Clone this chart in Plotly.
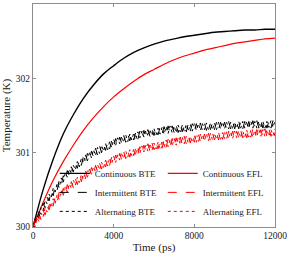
import plotly.graph_objects as go

# Sample times (ps)
time_cont = list(range(0, 12001, 500))
time_osc = list(range(0, 12001, 100))

# Continuous heating (K)
cont_bte = [300.00, 300.50, 300.91, 301.25, 301.51, 301.73, 301.91, 302.06, 302.17, 302.27,
            302.35, 302.41, 302.46, 302.50, 302.53, 302.56, 302.58, 302.60, 302.62, 302.63,
            302.64, 302.65, 302.65, 302.66, 302.66]
cont_efl = [300.00, 300.33, 300.63, 300.88, 301.10, 301.30, 301.47, 301.62, 301.75, 301.86,
            301.96, 302.05, 302.12, 302.19, 302.25, 302.30, 302.34, 302.38, 302.41, 302.44,
            302.47, 302.49, 302.51, 302.53, 302.54]

# Intermittent heating (K)
inter_bte = [300.00, 300.11, 300.06, 300.21, 300.17, 300.32, 300.26, 300.40, 300.35, 300.49,
             300.42, 300.56, 300.50, 300.63, 300.56, 300.69, 300.63, 300.76, 300.69, 300.81,
             300.74, 300.86, 300.79, 300.91, 300.83, 300.95, 300.87, 300.99, 300.91, 301.02,
             300.94, 301.06, 300.97, 301.09, 301.00, 301.11, 301.03, 301.14, 301.05, 301.16,
             301.08, 301.19, 301.10, 301.21, 301.12, 301.23, 301.14, 301.25, 301.16, 301.26,
             301.17, 301.28, 301.18, 301.29, 301.20, 301.30, 301.21, 301.31, 301.22, 301.32,
             301.23, 301.33, 301.24, 301.34, 301.25, 301.35, 301.25, 301.36, 301.26, 301.36,
             301.27, 301.37, 301.27, 301.38, 301.28, 301.38, 301.28, 301.39, 301.29, 301.39,
             301.29, 301.39, 301.30, 301.40, 301.30, 301.40, 301.30, 301.40, 301.31, 301.41,
             301.31, 301.41, 301.31, 301.41, 301.31, 301.41, 301.32, 301.42, 301.32, 301.42,
             301.32, 301.42, 301.32, 301.42, 301.32, 301.42, 301.32, 301.42, 301.32, 301.43,
             301.33, 301.43, 301.33, 301.43, 301.33, 301.43, 301.33, 301.43, 301.33, 301.43,
             301.33]
inter_efl = [300.00, 300.09, 300.03, 300.16, 300.10, 300.23, 300.16, 300.29, 300.23, 300.36,
             300.28, 300.41, 300.34, 300.47, 300.39, 300.52, 300.44, 300.57, 300.49, 300.61,
             300.53, 300.65, 300.57, 300.69, 300.61, 300.73, 300.65, 300.77, 300.69, 300.80,
             300.72, 300.83, 300.75, 300.86, 300.78, 300.89, 300.81, 300.92, 300.83, 300.94,
             300.86, 300.97, 300.88, 300.99, 300.90, 301.01, 300.92, 301.03, 300.94, 301.05,
             300.96, 301.07, 300.98, 301.08, 300.99, 301.10, 301.01, 301.12, 301.02, 301.13,
             301.04, 301.14, 301.05, 301.16, 301.06, 301.17, 301.07, 301.18, 301.08, 301.19,
             301.09, 301.20, 301.10, 301.21, 301.11, 301.22, 301.12, 301.22, 301.13, 301.23,
             301.14, 301.24, 301.14, 301.25, 301.15, 301.25, 301.16, 301.26, 301.16, 301.26,
             301.17, 301.27, 301.17, 301.28, 301.18, 301.28, 301.18, 301.29, 301.19, 301.29,
             301.19, 301.29, 301.20, 301.30, 301.20, 301.30, 301.20, 301.30, 301.21, 301.31,
             301.21, 301.31, 301.21, 301.31, 301.21, 301.32, 301.22, 301.32, 301.22, 301.32,
             301.22]

# Alternating heating (K)
alt_bte = [300.00, 300.01, 300.15, 300.12, 300.26, 300.22, 300.36, 300.31, 300.44, 300.39,
           300.52, 300.47, 300.59, 300.53, 300.66, 300.60, 300.73, 300.67, 300.78, 300.72,
           300.83, 300.77, 300.88, 300.81, 300.93, 300.86, 300.97, 300.89, 301.00, 300.93,
           301.04, 300.96, 301.07, 300.99, 301.10, 301.02, 301.12, 301.04, 301.15, 301.07,
           301.18, 301.10, 301.20, 301.12, 301.22, 301.14, 301.24, 301.15, 301.25, 301.17,
           301.27, 301.18, 301.28, 301.20, 301.29, 301.21, 301.30, 301.22, 301.31, 301.23,
           301.32, 301.24, 301.33, 301.25, 301.34, 301.25, 301.35, 301.26, 301.36, 301.27,
           301.36, 301.27, 301.37, 301.28, 301.37, 301.29, 301.38, 301.29, 301.38, 301.29,
           301.39, 301.30, 301.39, 301.30, 301.39, 301.31, 301.40, 301.31, 301.40, 301.31,
           301.40, 301.31, 301.41, 301.32, 301.41, 301.32, 301.41, 301.32, 301.41, 301.32,
           301.41, 301.33, 301.42, 301.33, 301.42, 301.33, 301.42, 301.33, 301.42, 301.33,
           301.42, 301.33, 301.42, 301.33, 301.42, 301.33, 301.42, 301.34, 301.43, 301.34,
           301.43]
alt_efl = [300.00, 300.00, 300.12, 300.07, 300.19, 300.13, 300.26, 300.20, 300.32, 300.26,
           300.38, 300.32, 300.44, 300.37, 300.49, 300.42, 300.54, 300.47, 300.58, 300.52,
           300.63, 300.56, 300.67, 300.60, 300.71, 300.64, 300.75, 300.67, 300.78, 300.71,
           300.81, 300.74, 300.84, 300.77, 300.87, 300.80, 300.90, 300.82, 300.93, 300.85,
           300.95, 300.87, 300.97, 300.90, 301.00, 300.92, 301.02, 300.94, 301.04, 300.96,
           301.05, 300.97, 301.07, 300.99, 301.09, 301.01, 301.10, 301.02, 301.12, 301.03,
           301.13, 301.05, 301.14, 301.06, 301.16, 301.07, 301.17, 301.08, 301.18, 301.09,
           301.19, 301.10, 301.20, 301.11, 301.21, 301.12, 301.22, 301.13, 301.22, 301.14,
           301.23, 301.14, 301.24, 301.15, 301.24, 301.16, 301.25, 301.16, 301.26, 301.17,
           301.26, 301.18, 301.27, 301.18, 301.27, 301.19, 301.28, 301.19, 301.28, 301.19,
           301.29, 301.20, 301.29, 301.20, 301.29, 301.21, 301.30, 301.21, 301.30, 301.21,
           301.30, 301.22, 301.31, 301.22, 301.31, 301.22, 301.31, 301.22, 301.31, 301.23,
           301.32]

x_ticks = [0, 4000, 8000, 12000]
y_ticks = [300, 301, 302, 303]

FONT = "Liberation Serif, Times New Roman, serif"
BLACK = "#000000"
RED = "#ff0000"
TXT = "#1a1a1a"

fig = go.Figure()
fig.add_trace(go.Scatter(x=time_cont, y=cont_bte, mode="lines", name="Continuous BTE",
                         line=dict(color=BLACK, width=1.4, shape="spline")))
fig.add_trace(go.Scatter(x=time_cont, y=cont_efl, mode="lines", name="Continuous EFL",
                         line=dict(color=RED, width=1.2, shape="spline")))
fig.add_trace(go.Scatter(x=time_osc, y=inter_bte, mode="lines", name="Intermittent BTE",
                         line=dict(color=BLACK, width=1, dash="dash")))
fig.add_trace(go.Scatter(x=time_osc, y=inter_efl, mode="lines", name="Intermittent EFL",
                         line=dict(color=RED, width=1, dash="dash")))
fig.add_trace(go.Scatter(x=time_osc, y=alt_bte, mode="lines", name="Alternating BTE",
                         line=dict(color=BLACK, width=1, dash="dot")))
fig.add_trace(go.Scatter(x=time_osc, y=alt_efl, mode="lines", name="Alternating EFL",
                         line=dict(color=RED, width=1, dash="dot")))

axis_common = dict(
    showline=True, linecolor="#8c8c8c", linewidth=1, mirror="ticks",
    ticks="inside", ticklen=3, tickcolor="#8c8c8c", showgrid=False, zeroline=False,
    tickfont=dict(family=FONT, size=9.5, color=TXT), automargin=False,
)
fig.update_xaxes(range=[0, 12000], tickvals=x_ticks, ticktext=[str(v) for v in x_ticks],
                 title=dict(text="Time (ps)", font=dict(family=FONT, size=11, color=TXT), standoff=2),
                 **axis_common)
fig.update_yaxes(range=[300, 303], tickvals=y_ticks, ticktext=[str(v) for v in y_ticks],
                 title=dict(text="Temperature (K)", font=dict(family=FONT, size=11, color=TXT), standoff=2),
                 **axis_common)

fig.update_layout(
    width=291, height=255,
    margin=dict(l=33, r=16, t=4, b=28),
    paper_bgcolor="white", plot_bgcolor="white",
    font=dict(family=FONT, size=9, color=TXT),
    legend=dict(orientation="h", x=0.09, y=0.005, xanchor="left", yanchor="bottom",
                entrywidth=63, entrywidthmode="pixels", itemwidth=30,
                bgcolor="rgba(0,0,0,0)", font=dict(family=FONT, size=9, color=TXT),
                tracegroupgap=0),
    showlegend=True,
)

fig.write_html("out.html", config={"displayModeBar": False},
               post_script="document.body.style.margin='0';document.body.style.padding='0';")
